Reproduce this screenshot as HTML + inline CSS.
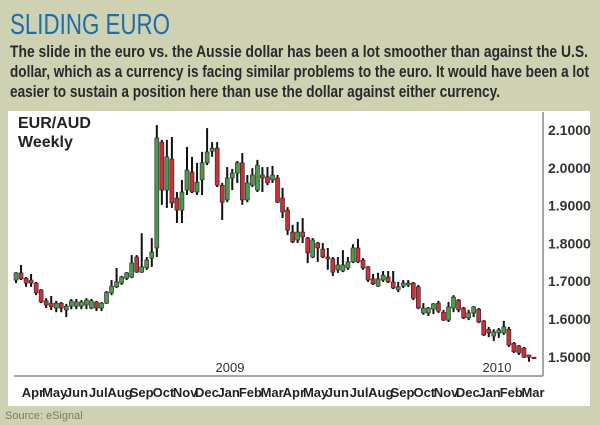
<!DOCTYPE html>
<html><head><meta charset="utf-8"><style>
html,body{margin:0;padding:0;background:#cfd1b3;}
svg{display:block;}
text{font-family:"Liberation Sans Narrow","Liberation Sans",sans-serif;}
</style></head><body>
<svg id="chart" width="600" height="425" viewBox="0 0 600 425">
<rect x="0" y="0" width="600" height="425" fill="#cfd1b3"/>
<text x="10" y="34" font-size="29" fill="#1d6ea8" textLength="160" lengthAdjust="spacingAndGlyphs">SLIDING EURO</text>
<g font-size="17" font-weight="bold" fill="#2a2a2a">
<text x="10" y="57" textLength="578" lengthAdjust="spacingAndGlyphs">The slide in the euro vs. the Aussie dollar has been a lot smoother than against the U.S.</text>
<text x="10" y="77" textLength="579" lengthAdjust="spacingAndGlyphs">dollar, which as a currency is facing similar problems to the euro. It would have been a lot</text>
<text x="10" y="97" textLength="490" lengthAdjust="spacingAndGlyphs">easier to sustain a position here than use the dollar against either currency.</text>
</g>
<rect x="8" y="111" width="582" height="295" fill="#ffffff"/>
<text x="18" y="128" font-size="16" font-weight="bold" fill="#222" font-family="Liberation Sans, sans-serif">EUR/AUD</text>
<text x="18" y="147" font-size="16" font-weight="bold" fill="#222" font-family="Liberation Sans, sans-serif">Weekly</text>
<line x1="543" y1="112" x2="543" y2="376" stroke="#8a8a8a" stroke-width="1.5"/>
<line x1="14" y1="376" x2="543" y2="376" stroke="#8a8a8a" stroke-width="1.5"/>
<g id="yticks"></g>
<g id="xticks"></g>
<g id="candles"></g>
<text x="230" y="372" font-size="13" fill="#333" text-anchor="middle">2009</text>
<text x="497" y="372" font-size="13" fill="#333" text-anchor="middle">2010</text>
<text x="5" y="419" font-size="11" fill="#7a7c68">Source: eSignal</text>
</svg>
<script>
const yTickValues=[2.1,2.0,1.9,1.8,1.7,1.6,1.5];
const monthLabels=["Apr","May","Jun","Jul","Aug","Sep","Oct","Nov","Dec","Jan","Feb","Mar","Apr","May","Jun","Jul","Aug","Sep","Oct","Nov","Dec","Jan","Feb","Mar"];
const opens=[1.703,1.722,1.708,1.703,1.695,1.677,1.648,1.642,1.629,1.642,1.624,1.634,1.634,1.634,1.637,1.629,1.645,1.629,1.642,1.669,1.685,1.695,1.708,1.711,1.764,1.724,1.735,1.761,1.788,2.068,1.941,2.023,1.920,1.888,1.941,1.989,1.936,1.968,2.013,2.044,2.052,1.954,1.915,1.973,1.986,2.013,1.915,1.954,1.941,1.981,1.976,1.968,1.973,1.920,1.888,1.830,1.809,1.830,1.814,1.764,1.801,1.785,1.764,1.759,1.730,1.727,1.735,1.751,1.788,1.756,1.738,1.706,1.687,1.703,1.711,1.698,1.677,1.687,1.690,1.695,1.685,1.616,1.616,1.626,1.642,1.618,1.597,1.629,1.650,1.629,1.603,1.616,1.626,1.595,1.573,1.555,1.563,1.563,1.573,1.536,1.529,1.523,1.505,1.499];
const highs=[1.724,1.743,1.711,1.719,1.698,1.679,1.655,1.661,1.648,1.645,1.640,1.653,1.653,1.650,1.655,1.653,1.648,1.645,1.674,1.703,1.735,1.714,1.724,1.769,1.769,1.827,1.764,1.814,2.113,2.074,2.074,2.0815,1.936,1.968,2.055,2.029,2.013,2.042,2.105,2.068,2.068,1.960,2.002,1.997,2.018,2.039,1.981,1.999,2.021,2.002,2.002,2.005,1.981,1.947,1.896,1.849,1.857,1.867,1.817,1.814,1.804,1.801,1.788,1.764,1.764,1.782,1.764,1.798,1.812,1.761,1.740,1.719,1.722,1.727,1.727,1.727,1.698,1.703,1.703,1.698,1.690,1.642,1.632,1.642,1.648,1.624,1.645,1.663,1.653,1.632,1.624,1.634,1.629,1.597,1.579,1.573,1.576,1.595,1.579,1.539,1.531,1.526,1.505,1.499];
const lows=[1.695,1.703,1.685,1.685,1.663,1.642,1.629,1.624,1.618,1.618,1.605,1.626,1.626,1.626,1.626,1.626,1.621,1.621,1.640,1.663,1.682,1.690,1.703,1.708,1.722,1.722,1.730,1.738,1.764,1.902,1.894,1.894,1.854,1.854,1.928,1.933,1.928,1.928,2.007,2.029,1.949,1.862,1.909,1.941,1.960,1.902,1.909,1.949,1.936,1.936,1.954,1.960,1.907,1.867,1.822,1.801,1.801,1.801,1.748,1.761,1.751,1.761,1.730,1.714,1.722,1.724,1.730,1.748,1.748,1.730,1.698,1.690,1.685,1.698,1.695,1.679,1.671,1.682,1.685,1.650,1.626,1.611,1.608,1.613,1.616,1.595,1.592,1.618,1.618,1.600,1.597,1.605,1.589,1.555,1.552,1.542,1.550,1.558,1.526,1.510,1.505,1.497,1.487,1.494];
const closes=[1.722,1.706,1.695,1.695,1.669,1.645,1.637,1.632,1.642,1.629,1.634,1.648,1.645,1.645,1.650,1.648,1.629,1.642,1.671,1.687,1.698,1.711,1.722,1.748,1.724,1.738,1.756,1.777,2.079,1.941,2.029,1.907,1.888,1.936,1.994,1.936,1.962,2.013,2.042,2.052,1.954,1.909,1.973,1.986,2.013,1.915,1.960,1.981,2.007,1.973,1.960,1.981,1.909,1.883,1.835,1.804,1.830,1.817,1.775,1.809,1.788,1.764,1.759,1.724,1.743,1.743,1.751,1.788,1.751,1.735,1.703,1.693,1.706,1.716,1.698,1.682,1.685,1.695,1.695,1.655,1.629,1.629,1.629,1.640,1.621,1.597,1.632,1.658,1.624,1.603,1.616,1.632,1.592,1.558,1.563,1.566,1.571,1.579,1.531,1.513,1.510,1.499,1.499,1.497];

const NS="http://www.w3.org/2000/svg";
const yScale=p=>130+(2.1-p)*378;
const xScale=i=>16+i*(518/(opens.length-1));
const monthX=i=>33+i*(500/(monthLabels.length-1));
function mk(tag,attrs,parent){const e=document.createElementNS(NS,tag);for(const k in attrs)e.setAttribute(k,attrs[k]);parent.appendChild(e);return e;}
const yg=document.getElementById('yticks');
yTickValues.forEach(v=>{
  const t=mk('text',{x:548,y:yScale(v)+5,'font-size':14,fill:'#333','font-weight':'bold'},yg);
  
  
  t.textContent=v.toFixed(4);
});
const xg=document.getElementById('xticks');
monthLabels.forEach((m,i)=>{
  const t=mk('text',{x:monthX(i),y:397,'font-size':13,fill:'#222','font-weight':'bold','text-anchor':'middle'},xg);
  
  
  t.textContent=m;
});
const cg=document.getElementById('candles');
opens.forEach((o,i)=>{
  const c=closes[i],h=highs[i],l=lows[i],x=xScale(i);
  const g=mk('g',{},cg);
  
  
  const w=mk('line',{x1:x,x2:x,y1:yScale(h),y2:yScale(l),stroke:'#111','stroke-width':2},g);
  
  
  const top=yScale(Math.max(o,c)),bot=yScale(Math.min(o,c));
  const b=mk('rect',{x:x-2,y:top,width:4,height:Math.max(1.5,bot-top),fill:c>=o?'#4e9a4c':'#c6343a',stroke:'#222','stroke-width':0.6},g);
  
  
});
</script>
</body></html>
